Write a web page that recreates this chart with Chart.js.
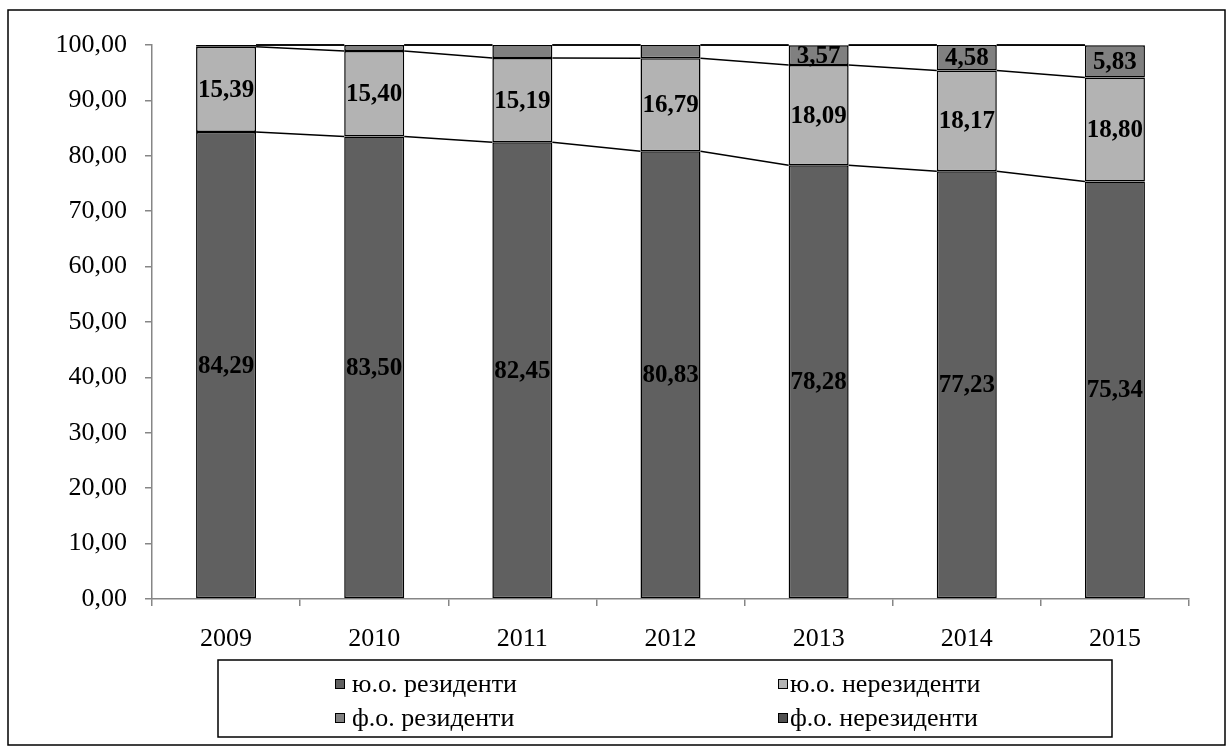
<!DOCTYPE html>
<html>
<head>
<meta charset="utf-8">
<script src="https://cdn.jsdelivr.net/npm/chart.js@4/dist/chart.umd.min.js"></script>
<style>
  html, body { margin: 0; padding: 0; background: #fff; }
  canvas { display: block; }
</style>
</head>
<body>
<canvas id="structureChart" width="1227" height="751"></canvas>
<script>
// years on the x axis
const years = ["2009", "2010", "2011", "2012", "2013", "2014", "2015"];

// shares, %
const yoResidents = [84.29, 83.5, 82.45, 80.83, 78.28, 77.23, 75.34];
const yoNonResidents = [15.39, 15.4, 15.19, 16.79, 18.09, 18.17, 18.8];
const foResidents = [0.32, 1.1, 2.36, 2.38, 3.57, 4.58, 5.83];
const foNonResidents = [0, 0, 0, 0, 0.06, 0.02, 0.03];

const seriesNames = ["ю.о. резиденти", "ю.о. нерезиденти", "ф.о. резиденти", "ф.о. нерезиденти"];
const seriesColors = ["#606060", "#b3b3b3", "#808080", "#505050"];

const serif = "Liberation Serif";
const axisGray = "#868686";

const fmt = (v) => Number(v).toFixed(2).replace(".", ",");

// white page with a thin black frame round everything
const framePlugin = {
  id: "frame",
  beforeDraw(chart) {
    const ctx = chart.ctx;
    ctx.save();
    ctx.fillStyle = "#fff";
    ctx.fillRect(0, 0, chart.width, chart.height);
    ctx.strokeStyle = "#000";
    ctx.lineWidth = 1.5;
    ctx.strokeRect(8, 10, 1217, 735);
    ctx.restore();
  },
};

// series lines joining the tops of the stacked segments
const seriesLinesPlugin = {
  id: "seriesLines",
  afterDatasetsDraw(chart) {
    const ctx = chart.ctx;
    ctx.save();
    ctx.strokeStyle = "#000";
    ctx.lineWidth = 1.5;
    chart.data.datasets.forEach((ds, di) => {
      const bars = chart.getDatasetMeta(di).data;
      for (let i = 0; i < bars.length - 1; i++) {
        const a = bars[i];
        const b = bars[i + 1];
        ctx.beginPath();
        ctx.moveTo(a.x + a.width / 2, a.y);
        ctx.lineTo(b.x - b.width / 2, b.y);
        ctx.stroke();
      }
    });
    ctx.restore();
  },
};

// value labels in the middle of each segment (small slices left blank)
const minLabelValue = 3;
const valueLabelsPlugin = {
  id: "valueLabels",
  afterDatasetsDraw(chart) {
    const ctx = chart.ctx;
    ctx.save();
    ctx.font = "bold 25px '" + serif + "'";
    ctx.fillStyle = "#000";
    ctx.textAlign = "center";
    ctx.textBaseline = "middle";
    chart.data.datasets.forEach((ds, di) => {
      const bars = chart.getDatasetMeta(di).data;
      bars.forEach((bar, i) => {
        const v = ds.data[i];
        if (v < minLabelValue) return;
        ctx.fillText(fmt(v), bar.x, (bar.y + bar.base) / 2 + 1);
      });
    });
    ctx.restore();
  },
};

// boxed legend, two columns by two rows
const legendBoxPlugin = {
  id: "legendBox",
  afterDraw(chart) {
    const ctx = chart.ctx;
    ctx.save();
    ctx.strokeStyle = "#000";
    ctx.lineWidth = 1.5;
    ctx.strokeRect(218, 660, 894, 77);
    const cols = [335, 778];
    const gaps = [17, 12];
    const rows = [684, 718];
    ctx.font = "26px '" + serif + "'";
    ctx.textAlign = "left";
    ctx.textBaseline = "middle";
    chart.data.datasets.forEach((ds, i) => {
      const x = cols[i % 2];
      const y = rows[Math.floor(i / 2)];
      ctx.fillStyle = ds.backgroundColor;
      ctx.fillRect(x, y - 5, 10, 10);
      ctx.lineWidth = 1;
      ctx.strokeRect(x + 0.5, y - 4.5, 9, 9);
      ctx.fillStyle = "#000";
      ctx.fillText(ds.label, x + gaps[i % 2], y + 1);
    });
    ctx.restore();
  },
};

const seriesData = [yoResidents, yoNonResidents, foResidents, foNonResidents];

new Chart(document.getElementById("structureChart"), {
  type: "bar",
  data: {
    labels: years,
    datasets: seriesData.map((values, i) => ({
      label: seriesNames[i],
      data: values,
      backgroundColor: seriesColors[i],
      borderColor: "#000",
      borderWidth: 1.5,
      borderSkipped: false,
      categoryPercentage: 1,
      barPercentage: 0.405,
    })),
  },
  options: {
    responsive: false,
    animation: false,
    layout: { padding: { left: 0, top: 45, right: 38, bottom: 82 } },
    plugins: {
      legend: { display: false },
      tooltip: { enabled: false },
    },
    scales: {
      x: {
        stacked: true,
        grid: {
          display: true,
          drawOnChartArea: false,
          offset: true,
          tickLength: 7,
          color: axisGray,
          lineWidth: 1.5,
        },
        border: { color: axisGray, width: 1.5 },
        ticks: { color: "#000", font: { family: serif, size: 26 }, padding: 18 },
        afterFit: (scale) => { scale.height = 70; },
      },
      y: {
        stacked: true,
        min: 0,
        max: 100,
        grid: {
          display: true,
          drawOnChartArea: false,
          tickLength: 7,
          color: axisGray,
          lineWidth: 1.5,
        },
        border: { color: axisGray, width: 1.5 },
        ticks: {
          stepSize: 10,
          color: "#000",
          font: { family: serif, size: 26 },
          padding: 18,
          callback: (v) => fmt(v),
        },
        afterFit: (scale) => { scale.width = 152; },
      },
    },
  },
  plugins: [framePlugin, seriesLinesPlugin, valueLabelsPlugin, legendBoxPlugin],
});
</script>
</body>
</html>
